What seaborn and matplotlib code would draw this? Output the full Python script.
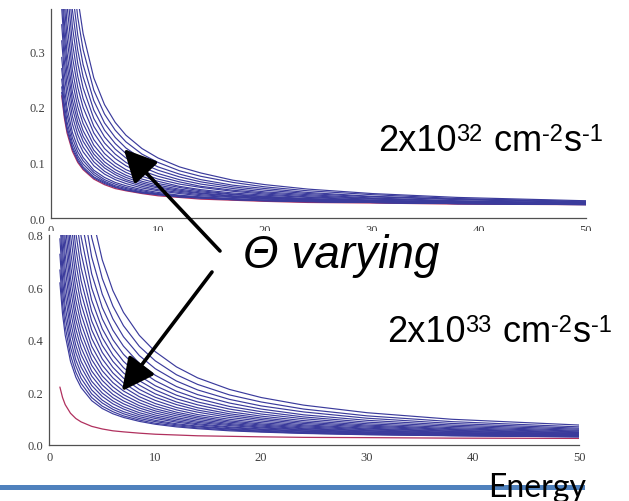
import numpy as np
import pandas as pd
import seaborn as sns
import matplotlib.pyplot as plt
from matplotlib.patches import Rectangle
from matplotlib.ticker import MultipleLocator, FormatStrFormatter
from matplotlib.transforms import Bbox, TransformedBbox, IdentityTransform

energy = [1, 1.25, 1.5, 2, 2.5, 3, 4, 5, 6, 7, 10, 14, 20, 30, 50]
# extra read-off points in the long tail
energy_tail = [8.5, 12, 17, 24, 38]

# lowest (red) curve, same in both panels
red_curve = [0.220, 0.180, 0.153, 0.120, 0.100, 0.087, 0.070, 0.060, 0.053, 0.049, 0.040, 0.034, 0.030, 0.027, 0.024]
red_tail = [0.044, 0.037, 0.032, 0.028, 0.025]

# upper panel, 2x10^32 : one row per theta value
top_curves = [
    [0.226, 0.185, 0.158, 0.124, 0.103, 0.089, 0.072, 0.062, 0.055, 0.050, 0.042, 0.036, 0.031, 0.028, 0.025],
    [0.236, 0.193, 0.164, 0.128, 0.107, 0.092, 0.074, 0.064, 0.056, 0.051, 0.042, 0.036, 0.031, 0.028, 0.025],
    [0.250, 0.204, 0.173, 0.135, 0.112, 0.097, 0.078, 0.066, 0.058, 0.053, 0.043, 0.036, 0.032, 0.028, 0.025],
    [0.269, 0.219, 0.186, 0.144, 0.119, 0.103, 0.082, 0.069, 0.061, 0.055, 0.044, 0.037, 0.032, 0.028, 0.024],
    [0.289, 0.235, 0.199, 0.154, 0.127, 0.109, 0.086, 0.073, 0.064, 0.058, 0.046, 0.038, 0.032, 0.028, 0.024],
    [0.319, 0.259, 0.219, 0.169, 0.139, 0.119, 0.094, 0.079, 0.069, 0.062, 0.049, 0.040, 0.034, 0.029, 0.025],
    [0.348, 0.282, 0.238, 0.183, 0.150, 0.128, 0.101, 0.084, 0.073, 0.066, 0.051, 0.042, 0.035, 0.029, 0.025],
    [0.378, 0.306, 0.258, 0.198, 0.162, 0.138, 0.108, 0.090, 0.078, 0.069, 0.054, 0.044, 0.036, 0.030, 0.025],
    [0.407, 0.329, 0.277, 0.212, 0.173, 0.147, 0.115, 0.095, 0.082, 0.073, 0.056, 0.045, 0.037, 0.030, 0.025],
    [0.437, 0.353, 0.297, 0.227, 0.185, 0.157, 0.122, 0.101, 0.087, 0.077, 0.059, 0.047, 0.038, 0.031, 0.025],
    [0.476, 0.384, 0.323, 0.246, 0.200, 0.170, 0.131, 0.108, 0.093, 0.082, 0.062, 0.049, 0.039, 0.032, 0.025],
    [0.516, 0.416, 0.349, 0.266, 0.216, 0.182, 0.141, 0.116, 0.099, 0.087, 0.066, 0.051, 0.041, 0.032, 0.026],
    [0.565, 0.455, 0.382, 0.290, 0.235, 0.199, 0.153, 0.125, 0.107, 0.094, 0.070, 0.055, 0.043, 0.034, 0.026],
    [0.615, 0.495, 0.415, 0.315, 0.255, 0.215, 0.165, 0.135, 0.115, 0.100, 0.075, 0.057, 0.045, 0.035, 0.027],
    [0.674, 0.542, 0.454, 0.344, 0.278, 0.234, 0.179, 0.146, 0.124, 0.108, 0.080, 0.061, 0.047, 0.036, 0.027],
    [0.734, 0.590, 0.494, 0.374, 0.302, 0.254, 0.194, 0.158, 0.134, 0.116, 0.086, 0.065, 0.050, 0.038, 0.028],
    [0.803, 0.645, 0.540, 0.408, 0.329, 0.276, 0.211, 0.171, 0.145, 0.126, 0.092, 0.069, 0.053, 0.039, 0.029],
    [0.883, 0.709, 0.593, 0.448, 0.361, 0.303, 0.230, 0.187, 0.158, 0.137, 0.100, 0.075, 0.056, 0.042, 0.030],
    [0.972, 0.780, 0.652, 0.492, 0.396, 0.332, 0.252, 0.204, 0.172, 0.149, 0.108, 0.081, 0.060, 0.044, 0.031],
]
top_tail = [
    [0.045, 0.038, 0.033, 0.030, 0.026],
    [0.046, 0.038, 0.033, 0.029, 0.026],
    [0.047, 0.039, 0.034, 0.030, 0.026],
    [0.049, 0.040, 0.034, 0.030, 0.026],
    [0.051, 0.041, 0.035, 0.030, 0.026],
    [0.054, 0.044, 0.037, 0.031, 0.027],
    [0.057, 0.046, 0.038, 0.032, 0.027],
    [0.060, 0.048, 0.039, 0.033, 0.027],
    [0.063, 0.050, 0.040, 0.034, 0.028],
    [0.066, 0.052, 0.042, 0.034, 0.028],
    [0.070, 0.055, 0.043, 0.035, 0.028],
    [0.075, 0.057, 0.045, 0.037, 0.029],
    [0.080, 0.061, 0.048, 0.038, 0.030],
    [0.085, 0.065, 0.050, 0.040, 0.030],
    [0.092, 0.069, 0.053, 0.042, 0.031],
    [0.098, 0.074, 0.056, 0.044, 0.033],
    [0.106, 0.079, 0.059, 0.046, 0.034],
    [0.115, 0.085, 0.064, 0.049, 0.035],
    [0.125, 0.092, 0.068, 0.052, 0.037],
]

# lower panel, 2x10^33
bottom_curves = [
    [0.618, 0.498, 0.418, 0.318, 0.258, 0.218, 0.168, 0.138, 0.118, 0.104, 0.078, 0.061, 0.048, 0.038, 0.030],
    [0.667, 0.537, 0.451, 0.342, 0.277, 0.234, 0.180, 0.147, 0.126, 0.110, 0.082, 0.064, 0.050, 0.039, 0.030],
    [0.727, 0.585, 0.490, 0.372, 0.301, 0.253, 0.194, 0.159, 0.135, 0.118, 0.088, 0.068, 0.052, 0.040, 0.031],
    [0.786, 0.632, 0.529, 0.401, 0.324, 0.273, 0.209, 0.170, 0.144, 0.126, 0.093, 0.071, 0.055, 0.042, 0.032],
    [0.856, 0.688, 0.576, 0.436, 0.352, 0.296, 0.226, 0.184, 0.156, 0.136, 0.100, 0.076, 0.058, 0.044, 0.032],
    [0.925, 0.743, 0.622, 0.470, 0.379, 0.318, 0.242, 0.197, 0.167, 0.145, 0.106, 0.080, 0.060, 0.045, 0.033],
    [1.004, 0.806, 0.674, 0.509, 0.410, 0.344, 0.262, 0.212, 0.179, 0.156, 0.113, 0.085, 0.064, 0.047, 0.034],
    [1.084, 0.870, 0.727, 0.549, 0.442, 0.370, 0.281, 0.228, 0.192, 0.167, 0.121, 0.090, 0.067, 0.049, 0.035],
    [1.173, 0.941, 0.786, 0.593, 0.477, 0.400, 0.303, 0.245, 0.206, 0.179, 0.129, 0.096, 0.071, 0.052, 0.036],
    [1.262, 1.012, 0.846, 0.637, 0.512, 0.429, 0.325, 0.262, 0.221, 0.191, 0.137, 0.102, 0.075, 0.054, 0.037],
    [1.362, 1.092, 0.912, 0.687, 0.552, 0.462, 0.349, 0.282, 0.237, 0.205, 0.147, 0.108, 0.079, 0.057, 0.039],
    [1.471, 1.179, 0.985, 0.741, 0.595, 0.498, 0.376, 0.303, 0.255, 0.220, 0.157, 0.115, 0.084, 0.060, 0.040],
    [1.591, 1.275, 1.064, 0.801, 0.643, 0.537, 0.406, 0.327, 0.274, 0.236, 0.169, 0.124, 0.090, 0.063, 0.042],
    [1.720, 1.378, 1.150, 0.865, 0.694, 0.580, 0.438, 0.352, 0.295, 0.254, 0.181, 0.132, 0.096, 0.067, 0.044],
    [1.859, 1.489, 1.243, 0.934, 0.749, 0.626, 0.472, 0.379, 0.318, 0.274, 0.194, 0.141, 0.102, 0.071, 0.046],
    [2.009, 1.609, 1.342, 1.009, 0.809, 0.675, 0.509, 0.409, 0.342, 0.294, 0.209, 0.152, 0.109, 0.075, 0.049],
    [2.178, 1.744, 1.455, 1.093, 0.876, 0.731, 0.551, 0.442, 0.370, 0.318, 0.225, 0.163, 0.117, 0.080, 0.052],
    [2.368, 1.896, 1.581, 1.188, 0.952, 0.794, 0.598, 0.480, 0.401, 0.345, 0.244, 0.176, 0.126, 0.086, 0.055],
    [2.587, 2.071, 1.727, 1.297, 1.039, 0.867, 0.652, 0.523, 0.437, 0.376, 0.265, 0.191, 0.136, 0.093, 0.059],
    [2.846, 2.278, 1.900, 1.426, 1.142, 0.953, 0.716, 0.574, 0.480, 0.412, 0.290, 0.209, 0.148, 0.101, 0.063],
    [3.146, 2.518, 2.099, 1.576, 1.262, 1.052, 0.791, 0.634, 0.529, 0.454, 0.320, 0.230, 0.163, 0.110, 0.068],
    [3.505, 2.805, 2.338, 1.755, 1.405, 1.172, 0.880, 0.705, 0.588, 0.505, 0.355, 0.255, 0.180, 0.122, 0.075],
]
bottom_tail = [
    [0.089, 0.068, 0.053, 0.043, 0.034],
    [0.094, 0.072, 0.056, 0.044, 0.035],
    [0.100, 0.076, 0.059, 0.046, 0.035],
    [0.107, 0.080, 0.061, 0.048, 0.036],
    [0.114, 0.086, 0.065, 0.051, 0.038],
    [0.122, 0.091, 0.068, 0.053, 0.039],
    [0.131, 0.097, 0.073, 0.056, 0.040],
    [0.140, 0.103, 0.077, 0.058, 0.042],
    [0.149, 0.110, 0.081, 0.061, 0.044],
    [0.160, 0.117, 0.086, 0.064, 0.045],
    [0.171, 0.124, 0.091, 0.068, 0.047],
    [0.183, 0.133, 0.097, 0.072, 0.050],
    [0.196, 0.142, 0.104, 0.076, 0.052],
    [0.211, 0.153, 0.111, 0.081, 0.055],
    [0.227, 0.163, 0.118, 0.086, 0.058],
    [0.244, 0.175, 0.126, 0.092, 0.061],
    [0.263, 0.189, 0.136, 0.099, 0.065],
    [0.285, 0.204, 0.146, 0.106, 0.070],
    [0.310, 0.222, 0.159, 0.114, 0.075],
    [0.340, 0.243, 0.173, 0.125, 0.081],
    [0.375, 0.267, 0.190, 0.136, 0.088],
    [0.417, 0.297, 0.211, 0.151, 0.097],
]

# (text, superscript?) pieces of the two luminosity labels
lumi_top = [("2x10", False), ("32", True), (" cm", False), ("-2", True), ("s", False), ("-1", True)]
lumi_bottom = [("2x10", False), ("33", True), (" cm", False), ("-2", True), ("s", False), ("-1", True)]

BLUE = "#3b3b9c"
RED = "#b0305e"
GREY = "#505050"


def long_form(curves, tails):
    rows = []
    for i, (vals, tail) in enumerate(zip(curves, tails)):
        for e, v in zip(energy + energy_tail, vals + tail):
            rows.append((i, e, v))
    return pd.DataFrame(rows, columns=["curve", "energy", "value"])


sns.set_theme(style="white")
plt.rcParams["font.family"] = ["Liberation Sans", "DejaVu Sans"]
plt.rcParams["text.color"] = "black"

W, H = 629, 502
fig = plt.figure(figsize=(W / 100, H / 100), dpi=100)
fig.patch.set_facecolor("white")
renderer = fig.canvas.get_renderer()


def px_axes(x0, y0, x1, y1, **kw):
    # axes rectangle given in image pixels (y down)
    return fig.add_axes([x0 / W, 1 - y1 / H, (x1 - x0) / W, (y1 - y0) / H], **kw)


ax_top = px_axes(51, 10, 586, 219)
ax_bot = px_axes(49.3, 236, 579, 445.7)

red_df = pd.DataFrame({"energy": energy + energy_tail, "value": red_curve + red_tail})

for ax, curves, tails, ymax, ymajor, yminor in [
    (ax_top, top_curves, top_tail, 0.376, 0.1, 0.02),
    (ax_bot, bottom_curves, bottom_tail, 0.8, 0.2, 0.05),
]:
    ax.set_facecolor("none")
    sns.lineplot(data=red_df, x="energy", y="value", color=RED, lw=0.9, ax=ax)
    sns.lineplot(data=long_form(curves, tails), x="energy", y="value", units="curve",
                 estimator=None, color=BLUE, lw=0.85, ax=ax, legend=False)
    ax.set_xlim(0, 50)
    ax.set_ylim(0, ymax)
    ax.set_xlabel("")
    ax.set_ylabel("")
    ax.xaxis.set_major_locator(MultipleLocator(10))
    ax.xaxis.set_minor_locator(MultipleLocator(2))
    ax.yaxis.set_major_locator(MultipleLocator(ymajor))
    ax.yaxis.set_minor_locator(MultipleLocator(yminor))
    ax.yaxis.set_major_formatter(FormatStrFormatter("%.1f"))
    for s in ["top", "right"]:
        ax.spines[s].set_visible(False)
    for s in ["left", "bottom"]:
        ax.spines[s].set_color(GREY)
        ax.spines[s].set_linewidth(0.9)
    ax.tick_params(which="both", direction="in", color=GREY, width=0.7,
                   labelsize=9, labelcolor="#404040", labelfontfamily="Liberation Serif")
    ax.tick_params(which="major", length=4)
    ax.tick_params(which="minor", length=2.5)
    ax.tick_params(axis="y", pad=4.5)
    ax.tick_params(axis="x", pad=4.5)

# the lower plot hides the bottom half of the upper plot's energy labels
clip = TransformedBbox(Bbox([[0, 1 - 231.5 / H], [1, 1]]), fig.transFigure)
for lab in ax_top.get_xticklabels():
    lab.set_clip_box(clip)
    lab.set_clip_on(True)


def sup_label(x, baseline, pieces, size=26, sup_size=17, raise_px=9.5):
    # write the pieces one after the other, in image pixels (y down)
    for text, sup in pieces:
        y = H - baseline + (raise_px if sup else 0)
        t = fig.text(x, y, text, fontsize=sup_size if sup else size, color="black",
                     va="baseline", ha="left", transform=IdentityTransform())
        x = t.get_window_extent(renderer).x1 + (1 if sup else 0)


sup_label(378, 151, lumi_top)
sup_label(387, 341.7, lumi_bottom)
fig.text(243 / W, 1 - 268 / H, "Θ varying", fontsize=33, style="italic", color="black",
         va="baseline", ha="left")

# arrows pointing into both families of curves
arrow_kw = dict(arrowstyle="-|>,head_length=0.9,head_width=0.45", color="black",
                lw=2.6, shrinkA=0, shrinkB=0, mutation_scale=22)
ax_top.annotate("", xy=(6.8, 0.124), xycoords="data", xytext=(220, H - 252),
                textcoords="figure pixels", arrowprops=arrow_kw, annotation_clip=False)
ax_bot.annotate("", xy=(6.86, 0.205), xycoords="data", xytext=(212, H - 273),
                textcoords="figure pixels", arrowprops=arrow_kw, annotation_clip=False)

# slide footer bar and axis title
fig.add_artist(Rectangle((0, 1 - 490.7 / H), 585 / W, 5 / H, transform=fig.transFigure,
                         facecolor="#4f81bd", edgecolor="none", zorder=2))
fig.text(488 / W, 1 - 497 / H, "Energy", fontsize=23, family="Lato", color="black",
         va="baseline", ha="left", zorder=3)

fig.savefig("out.png", dpi=100)
